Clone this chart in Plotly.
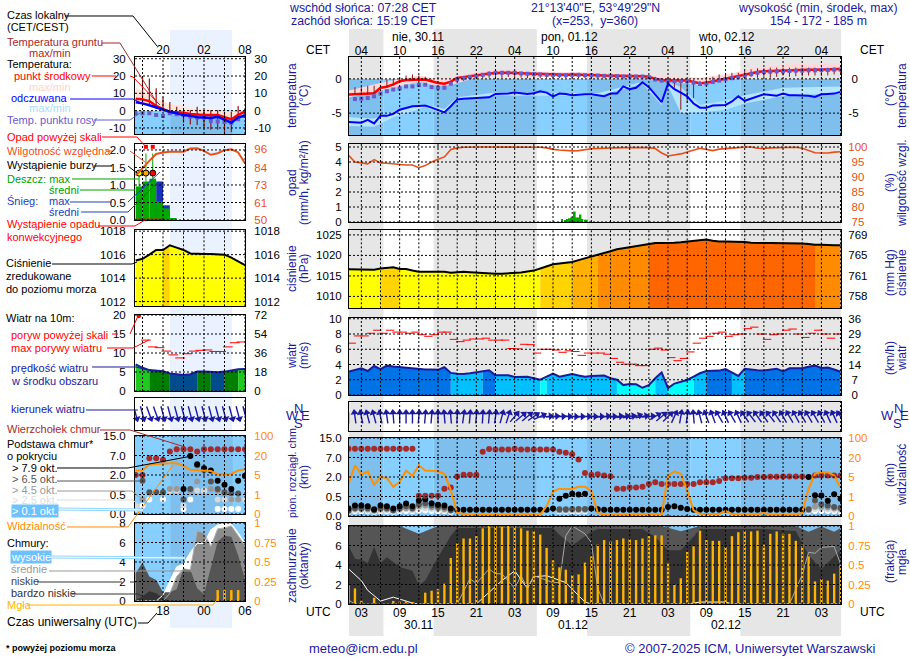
import math
import plotly.graph_objects as go
import numpy as np

W, H = 910, 660
FONT = "Liberation Sans"
NAVY = "#1a1a9c"
ORANGE = "#ff8c00"
RH_COL = "#e8501a"

# ---- time axes (hours since 30.11 00 UTC)
hours_r = list(range(1, 79))
hours_l = list(range(14, 31))
grid_r = list(range(3, 79, 3))
grid_l = [15, 18, 21, 24, 27, 30]
tick_r = list(range(3, 79, 6))
top_r = ["04", "10", "16", "22"] * 3 + ["04"]
bot_r = ["03", "09", "15", "21"] * 3 + ["03"]
tick_l = [18, 24, 30]
top_l = ["20", "02", "08"]
bot_l = ["18", "00", "06"]
night_r = [(1.07, 6.47), (14.32, 30.47), (38.32, 54.47), (62.32, 78.07)]
day_r = [(6.47, 14.32), (30.47, 38.32), (54.47, 62.32)]
night_l = (19.1, 28.2)

# ---- long meteogram, right column
t_mid = [-2.3,-2.25,-2.2,-2.2,-2.1,-1.3,-1.15,-0.8,-0.35,-0.15,
         -0.1,-0.05,-0.1,-0.35,-0.6,-0.7,-0.4,0.15,0.25,0.4,
         0.5,0.65,0.8,0.9,0.9,0.9,0.9,0.85,0.8,0.75,
         0.7,0.65,0.65,0.6,0.6,0.65,0.65,0.6,0.6,0.55,
         0.5,0.5,0.45,0.4,0.4,0.4,0.4,0.3,0.0,-0.15,
         -0.25,-0.2,-0.2,-0.25,-0.45,-0.65,-0.55,-0.35,-0.15,0.05,
         0.2,0.35,0.55,0.8,1.0,1.1,1.15,1.2,1.2,1.25,
         1.3,1.3,1.35,1.35,1.4,1.4,1.45,1.45]
band_h = [1,6,12,15,17,21,24,30,40,48,56,61,64,69,78]
t_max = [-1.7,-0.6,0.5,0.0,0.3,1.0,1.4,1.1,0.9,0.6,0.15,0.8,1.6,2.1,2.35]
t_min = [-2.7,-1.7,-0.4,-1.0,-0.9,0.2,0.5,0.3,0.2,0.0,-0.9,0.0,0.5,0.9,1.2]
feels = [-6.3,-6.4,-6.4,-6.0,-6.5,-5.4,-5.4,-5.1,-4.5,-4.25,
         -4.0,-3.95,-3.9,-4.2,-4.5,-4.9,-4.0,-3.0,-2.9,-2.85,
         -2.8,-2.8,-2.7,-2.2,-2.2,-2.15,-2.0,-2.1,-2.2,-2.1,
         -1.8,-2.0,-2.55,-2.15,-2.2,-2.4,-2.3,-2.25,-2.25,-2.35,
         -2.55,-2.15,-2.15,-1.1,-1.5,-1.3,-0.5,-1.2,-2.3,-3.4,
         -0.7,-1.5,-2.0,-2.55,-3.6,-4.2,-4.2,-3.9,-3.85,-3.8,
         -3.3,-2.55,-3.2,-2.85,-2.5,-2.25,-2.35,-2.45,-2.15,-2.4,
         -2.4,-2.4,-2.45,-2.65,-2.25,-2.2,-2.15,-1.9]
feels_h = [1,5,8,13,16,18,24,40,47,50,51,53,56,60,63,69,78]
feels_max = [-5.6,-5.8,-4.8,-3.7,-4.4,-2.7,-2.0,-2.1,-0.4,-3.0,-0.5,-1.2,-3.8,-3.2,-2.4,-1.3,-1.1]
feels_min = [-6.9,-7.0,-5.6,-4.1,-5.1,-3.2,-2.4,-2.5,-0.7,-3.8,-1.0,-5.0,-4.9,-4.5,-3.6,-2.5,-2.1]
dew = [None,-2.95,-2.9,-2.8,-2.55,-2.15,-1.8,-1.55,-1.4,-1.1,
       -1.1,-0.9,-0.85,-1.2,-1.3,-1.3,-0.7,-0.1,0.1,0.3,
       0.45,0.6,0.75,0.9,0.9,0.9,0.9,0.8,0.75,0.7,
       0.65,0.6,0.6,0.55,0.55,0.6,0.6,0.55,0.55,0.5,
       0.45,0.45,0.4,0.35,0.35,0.35,0.35,0.25,-0.1,-0.25,
       -0.4,-0.3,-0.3,-0.35,-0.55,-0.75,-0.65,-0.45,-0.25,-0.05,
       0.1,0.25,0.45,0.7,0.9,1.0,1.05,1.1,1.1,1.15,
       1.2,1.2,1.25,1.25,1.3,1.3,1.35,1.35]
ground_max = [-2.0,-1.2,-1.2,-1.0,-1.0,-1.0,-0.1,0.0,0.15,0.5,
              0.65,0.5,0.3,-0.1,-0.35,-0.8,-0.3,0.15,0.25,0.4,
              0.5,0.7,1.1,1.1,1.1,1.1,1.1,1.0,0.9,0.8,
              0.75,0.7,0.7,0.65,0.65,0.65,0.65,0.6,0.6,0.6,
              0.6,0.6,0.55,0.5,0.5,0.5,0.5,0.4,0.3,0.1,
              0.3,0.15,-0.1,-0.1,-0.1,-0.3,-0.1,0.3,0.65,0.65,
              0.9,0.9,1.15,1.4,1.55,1.55,1.65,1.65,1.65,1.65,
              1.65,1.65,1.65,1.65,1.65,1.65,1.65,1.65]
ground_min = [-2.3,-2.3,-2.3,-2.3,-2.2,-1.4,-1.2,-1.0,-0.6,-0.3,
              -0.2,-0.2,-0.2,-0.4,-0.7,-0.8,-0.5,-0.25,-0.3,-0.1,
              0.0,0.1,0.15,0.2,0.15,0.3,0.2,0.2,0.1,0.1,
              0.1,0.1,0.1,0.1,0.1,0.1,0.1,0.1,0.1,0.1,
              0.1,0.1,0.1,0.1,0.0,0.0,0.0,0.0,-0.2,-0.4,
              -0.85,-1.3,-4.5,-3.5,-2.8,-1.0,-1.0,-0.6,-0.35,-0.1,
              0.0,0.15,0.4,0.3,0.15,0.3,0.15,0.3,0.5,0.3,
              0.4,0.4,0.5,0.5,0.4,0.5,0.65,0.65]
rh = [97.2,95,94.7,94.4,95.8,94.7,94.6,94.4,94,94,
      94,93.1,93.8,95,95.9,96.7,99.2,99.7,99.9,100,
      100,100,100,100,100,100,100,100,100,100,
      99.9,99.7,99.2,99,98.8,98.7,98.8,99.2,99.4,99.5,
      99.6,99.8,99.8,99.8,99.8,99.8,99.8,99.8,99.5,98,
      97,97.3,97.7,98.3,99,99.6,99.2,98.8,99.3,99.4,
      99.5,99.8,100,100,99.6,99.5,99.7,99.8,99.9,99.9,
      99.9,99.6,98.8,98.1,98,98,98.3,98.4]
rain_h = [34.4,34.9,35.2,35.5,35.8,36.1,36.4,36.7,37,37.3,37.6,38,38.3]
rain = [0.2,0.12,0.2,0.25,0.3,0.3,0.7,0.3,0.3,0.5,0.2,0.15,0.15]
press = [1016.6,1016.6,1016.55,1016.5,1016.5,1016.8,1016.9,1017.1,1016.7,1016.7,
         1016.3,1016.0,1016.0,1016.05,1016.05,1016.0,1015.8,1015.9,1016.0,1015.9,
         1015.8,1015.65,1015.5,1015.5,1015.55,1015.6,1015.65,1015.85,1016.1,1016.3,
         1016.8,1017.3,1017.85,1018.05,1018.2,1018.4,1018.85,1019.3,1019.8,1020.3,
         1020.6,1021.0,1021.5,1021.75,1022.0,1022.2,1022.5,1022.85,1023.0,1023.0,
         1023.0,1023.1,1023.2,1023.4,1023.6,1023.8,1023.9,1023.6,1023.4,1023.4,
         1023.4,1023.4,1023.3,1023.1,1023.0,1023.0,1023.0,1023.0,1023.0,1023.0,
         1023.0,1022.9,1022.8,1022.6,1022.6,1022.5,1022.5,1022.5]
wind = [3.07,3.3,3.5,3.15,3.8,3.4,3.85,3.75,3.65,3.6,
        3.5,3.4,3.35,3.35,3.3,3.65,2.9,2.8,2.75,2.85,
        3.0,3.1,3.25,2.6,2.6,2.6,2.37,2.4,2.4,2.2,
        2.0,2.4,2.8,2.4,2.55,2.75,2.55,2.4,2.5,2.55,
        2.55,2.2,2.0,1.3,1.45,1.4,0.95,1.3,2.2,2.95,
        0.9,1.5,1.75,1.97,2.4,2.85,3.15,3.15,3.2,3.4,
        2.95,2.5,3.45,3.3,3.25,3.2,3.35,3.45,3.1,3.5,
        3.5,3.5,3.7,3.85,3.55,3.6,3.35,3.05]
gust_h = [h + 0.5 for h in range(1, 78)]
gust = [6.8,7.75,7.75,8.1,8.5,8.1,8.5,8.25,8.25,8.1,
        8.25,7.9,7.7,7.9,8.25,8.25,7.3,7.0,7.2,7.35,
        7.35,7.45,7.2,7.2,7.2,6.1,6.05,6.65,6.6,5.5,
        6,6,5.9,5.6,5.8,5.7,5.2,5.5,5.5,
        5.5,5.35,4.8,4.3,4.05,4.05,3.85,3.85,6,6.15,5.9,4.9,4.5,4.8,5.65,6.8,7.45,7.7,8.1,8.25,
        7.7,7.9,8,8.7,8.9,8,7.3,7.9,8,8.5,8.65,8,7.55,8.1,8.5,8,7.45,8]
heading = [0,-8,-12,-15,-15,-12,-8,-5,0,0,
           0,5,5,5,0,-5,-5,3,8,5,
           5,3,5,8,15,18,40,50,50,55,
           65,85,85,88,90,92,90,88,90,90,
           85,88,85,82,80,70,80,85,60,50,
           45,25,10,8,-5,-15,-20,-20,-30,-25,
           -30,-25,-35,-38,-35,-35,-38,-35,-30,-30,
           -28,-30,-30,-30,-28,-25,-25,-35]
top_km = [10.6]*11 + [0.55]*4 + [1.1,1.2,2.1,2.6,2.6,2.6,9.4,10.5,10.3,10.3,10.3,10.6] + [10.3]*6 + \
         [9.4,9,8.3,6.5,3,2.6,2.7,2.4,2.2,1.1,1.1,1.2,1.2,1.25,1.47,1.6,1.46] + [1.46]*5 + [1.6]*3 + \
         [1.7,1.9,1.9,1.9,1.95,1.95,2,2,2.05,2.05,2.1,2.1,2.1,2.1,None] + [2.4]*5
base79 = [0.19,0.27,0.27,0.25,0.17,0.27,0.25,0.19,0.25,0.32,0.25,0.4,0.43,0.33,0.29,0.27,0.19] + [0.16]*15 + \
         [0.19,0.44,0.55,0.72,0.65,0.72,0.19,0.17] + [0.16]*10 + [0.23,0.25,0.21,0.18] + [0.16]*18 + \
         [2.0,0.59,0.57,0.39,0.67,0.44]
thin_h = list(range(1, 18)) + list(range(34, 39)) + list(range(73, 79))
base65 = [.14,.2,.2,.2,.15,.2,.2,.15,.2,.25,.2,.3,.33,.27,.23,.22,.15,.17,.17,.18,.18,.18,.17,.4,.3,.27,.23,.21]
base45 = [.13,.18,.18,.17,.14,.17,.17,.14,.18,.2,.18,.25,.27,.22,.2,.18,.14,.15,.15,.16,.16,.16,.15,.24,.23,.22,.2,.18]
base25 = [.12,.15,.15,.14,.13,.14,.15,.13,.15,.17,.15,.2,.2,.18,.16,.15,.13,.14,.14,.14,.14,.14,.14,.18,.18,.17,.16,.15]
base01 = [.11,.12,.12,.12,.11,.12,.12,.11,.12,.13,.12,.14,.14,.13,.12,.12,.11,.12,.12,.12,.12,.12,.12,.13,.13,.13,.12,.12]
visib = [3.6,14,7,9.4,3.4,5,4.8,3,4,9.8,6,14,10,9.8,9.4,7.5,2.3,0.17,0.1,0.07,
         0.07,0.07,0.07,0.07,0.07,0.07,0.07,0.07,0.07,0.07,0.08,0.5,2,2.6,2.5,2.6,3,3,2.1,0.17,
         0.07,0.07,0.07,0.07,0.07,0.07,0.07,0.07,0.07,0.1,6,9.4,7.5,2.2,0.29,0.12,0.1,0.1,0.1,0.26,
         0.1,0.09,0.09,0.09,0.09,0.17,0.07,0.07,0.07,0.07,0.07,0.17,2.6,7.5,8.8,8.5,6.2,2.8]
vlow_h = [1,2,3,4,5,6,7,8,9,11,12,13,15,17,18,33,34,36,39,40,47,49,51,53,55,56,66,71,73,75,78]
vlow = [6,4.65,4.55,4.2,5.85,4.2,4.8,4.3,3.8,3.4,1.9,2.4,4.8,7,7.8,7.8,7.1,6,7.4,7.7,7.7,6.9,5.5,5.5,6.9,7.7,7.7,7.5,5,3.6,5.5]
low_h = [1,9,12,15,50,53,56,71,73,75,77,78]
low = [8,8,7.2,8,8,7.45,8,8,7.4,7.95,7.4,7.8]
mid_h = [1,2,17,18,20,21,23,24,25,27,28,29,30,33,34,35,36,38,39,40,41,70,72,73,74,75,77,78]
mid = [.4,0,0,0,2.6,2.1,3.6,3.1,3.1,1.6,2.9,1.6,2.9,2.2,2.2,7,8,7.2,6.3,1.6,0,0,3,5.3,5.2,5.8,5.9,4.1]
high_h = [1,3,4,5,6,8,11,12,21,25,27,29,30,32,35,38,39,54,56,60,61,78]
high = [3.6,2.4,1.4,.8,.3,.7,.1,0,0,2.4,3.4,1.6,2.8,2.9,2.2,.2,0,0,.2,.2,0,0]
mist = [.24,.2,.04,0,.08,0,0,.04,.03,.04,.02,0,.145,.17,.19,.26,.59,.78,.84,.84,
        .87,.97,1,1,1,1,1,.97,.94,.94,.89,.72,.56,.47,.44,.37,.38,.53,.61,.76,
        .82,.8,.82,.84,.83,.82,.84,.87,.88,.88,.53,.25,.33,.67,.74,.94,.82,.81,.81,.73,
        .87,.92,.94,.93,.94,.76,.9,.93,.9,.9,.81,.76,.61,.29,.32,.3,.39,.5]

# ---- short meteogram, left column
l_t = [6.9,6.5,5.5,2.7,.8,-.8,-1,-1.2,-1.9,-2.3,-2.5,-2.5,-2.5,-3.8,-5,-2.5,-.6]
l_tmax = [13.5,11,9,6.5,5.2,3.8,3.3,2.5,1.7,1,.8,.5,.2,0,-.3,-.6,-.6]
l_tmin = [5,4.5,3,1,0,-1.2,-1.5,-2,-2.5,-3,-3,-3,-3,-4.5,-5.5,-3,-1]
l_feels = [4.8,4.2,3.1,1.9,.4,-.6,-1.5,-2.5,-2.9,-3.8,-4,-4.3,-3.5,-5.4,-7,-3.9,-2.9]
l_dew = [-1.5,-1.5,-1.5,-2.5,-3.1,-1.5,-2.1,-2.5,-3.5,-4,-4,-6,-6.3,-6.5,-7,-5,-3]
l_gr_h = list(range(15, 31))
l_gmax = [20,18.6,12.9,7.7,5,2.3,.4,.4,2.3,.4,.4,.4,-.6,-.6,2.7,1]
l_gmin = [5,3,1,0,-1,-2,-7,-8,-8.3,-10.2,-11,-11,-13,-12.5,-5.8,-2]
l_rh = [79,84,88.5,93,94,94.4,94.5,94.5,96.5,96.7,95,92.5,93.5,95.5,96,94,87]
l_bar_h = [14.5,15.5,16.5,17.5,18.5,19.5]
l_rain = [.96,1.1,1.18,.53,.33,.05]
l_snow = [0,0,0,1.1,.42,0]
l_storm = [1.34,1.34,1.34]
l_rain_max = [1.34,1.9,1.9]
l_over_h = [15.5,16.5]
l_over = [2.09,2.09]
l_conv_h = [14.5,15.5,16.5,17.5]
l_press = [1015.5,1015.65,1016,1016.4,1016.4,1016.8,1016.6,1016.4,1016.1,1016.05,1016.05,1016.05,1016.05,1016,1015.75,1015.4,1015.1]
l_wind = [7,6.1,5.5,5.3,5.2,4.6,4.3,4.2,4.4,5.1,5.1,4.95,4.95,5.1,5.4,5.75,5.8]
l_gust_h = [h + 0.5 for h in range(15, 30)]
l_gust = [13.4,11.6,11.4,10.5,9.5,8.7,9.8,10.5,10.7,10.8,10.4,10.4,11.6,12.7,12.9]
l_heading = [165,165,160,160,165,165,165,165,165,165,165,165,165,165,165,165,165]
l_top = [2,2,6.3,6.3,5.9,8.6,9.6,9.6,9.6,8.6,9.6,9.6,9.6,9.6,9.6,9.6,9.6]
l_base79 = [None,None,None,None,None,None,None,.92,6.9,4.75,3.75,3.15,1.55,1.25,.92,1.55,1.94]
l_base65 = [None,1.55,.68,.68,.68,None,None,.37,.92,4.5,3.3,1.5,.92,.67,.6,.57,1.9]
l_base45 = [None,.37,None,None,None,.92,.92,None,.8,1.5,None,.92,.8,.57,.37,.37,None]
l_base25 = [.2,None,None,None,None,.8,.8,.22,None,.8,.78,None,.37,.37,.37,None,.37]
l_base01 = [.13,.21,.37,None,.38,None,None,.13,.37,None,.78,None,.13,.13,.13,.13,None]
l_vis = [8.5,8.7,13,13.5,14,14,14,12,9,9,8.5,8,5.6,5.6,5.8,8.5,9.5]
l_high = [0,0,0,0,.6,2,3.5,3.8,5,5.9,5.9,7.3,7.8,7.9,7.9,7,5.9]
l_mid = [0,0,0,0,0,.8,2.5,3.3,3.2,7.2,7,5.6,7.4,7.5,7.7,6.7,5.7]
l_low = [2.85,3.95,2.5,2.15,.9,.9,1.2,3.3,3.2,1.3,.7,3.4,6.1,6.7,6.6,4.7,2.2]
l_vlow = [.1,.45,1,.8,.3,0,0,0,0,0,0,0,0,0,0,0,0]
l_mist_h = [26,27,28,29]
l_mist = [.14,.14,.14,.14]

# colour classes
press_limits = [1016.75, 1018.3, 1020, 1022.7]
press_cols = ["#ffff00", "#ffd400", "#ffb000", "#ff8c00", "#ff6600"]
wind_limits = [2, 3, 4, 5, 5.6]
wind_cols = ["#00ffff", "#00c0ff", "#0073e6", "#004c8c", "#007f00", "#1ec81e"]

# cloud base and visibility share one uneven scale
km_knots = [0, 0.5, 2, 7, 15]
vis_knots = [0, 1, 5, 20, 100]
lvl_ticks = [0, 1, 2, 3, 4]
km_labels = ["0.0", "0.5", "2.0", "7.0", "15.0"]
vis_labels = ["0", "1", "5", "20", "100"]


def X(px):
    return px / W


def Y(py):
    return 1 - py / H


def lvl(vals, knots):
    return [None if v is None else float(np.interp(v, knots, lvl_ticks)) for v in vals]


fig = go.Figure()
layout = {}
shapes = []

COLS = {"L": (135, 245, [13.9, 30.0], grid_l), "R": (349, 841, [1.07, 78.07], grid_r)}
TICK_SIZE = 11.5


def panel(n, col, top, bot, yr, yt, ylab, rr, rt, rlab, rcol="black", hgrid=True):
    left, right, xr, grid = COLS[col]
    pad = 6 if col == "L" else 4
    layout[f"xaxis{n}"] = dict(domain=[X(left), X(right)], range=xr, anchor=f"y{n}", showgrid=False,
                               zeroline=False, showline=True, linecolor="black", linewidth=1, mirror=True,
                               showticklabels=False, ticks="", fixedrange=True)
    layout[f"yaxis{n}"] = dict(domain=[Y(bot), Y(top)], range=yr, anchor=f"x{n}", showgrid=False, zeroline=False,
                               showline=True, linecolor="black", linewidth=1, mirror=True,
                               tickvals=yt, ticktext=ylab, ticks="outside", ticklen=pad,
                               tickcolor="rgba(0,0,0,0)", tickfont=dict(family=FONT, size=TICK_SIZE, color="black"),
                               showticklabels=bool(yt))
    layout[f"yaxis{n+20}"] = dict(domain=[Y(bot), Y(top)], range=rr, anchor=f"x{n}", overlaying=f"y{n}", side="right",
                                  showgrid=False, zeroline=False, tickvals=rt, ticktext=rlab, ticks="outside",
                                  ticklen=pad, tickcolor="rgba(0,0,0,0)",
                                  tickfont=dict(family=FONT, size=TICK_SIZE, color=rcol), showticklabels=bool(rt))
    fig.add_trace(go.Scatter(x=[None], y=[None], xaxis=f"x{n}", yaxis=f"y{n+20}", showlegend=False))
    for g in grid:
        shapes.append(dict(type="line", xref=f"x{n}", yref=f"y{n}", x0=g, x1=g, y0=yr[0], y1=yr[1], layer="above",
                           line=dict(color="black", width=1, dash="2px,2px")))
    if hgrid:
        for t in yt:
            shapes.append(dict(type="line", xref=f"x{n}", yref=f"y{n}", x0=xr[0], x1=xr[1], y0=t, y1=t, layer="above",
                               line=dict(color="black", width=1, dash="2px,2px")))


def line(n, x, y, color, width=2, right=False):
    fig.add_trace(go.Scatter(x=x, y=y, mode="lines", line=dict(color=color, width=width), showlegend=False,
                             connectgaps=False, xaxis=f"x{n}", yaxis=f"y{n+20}" if right else f"y{n}"))


def dots(n, x, y, color, size=6, symbol="circle", right=False, **kw):
    fig.add_trace(go.Scatter(x=x, y=y, mode="markers", showlegend=False, xaxis=f"x{n}",
                             yaxis=f"y{n+20}" if right else f"y{n}",
                             marker=dict(color=color, size=size, symbol=symbol, **kw)))


def dashes(n, x, y, size):
    fig.add_trace(go.Scatter(x=x, y=y, mode="markers", showlegend=False, xaxis=f"x{n}", yaxis=f"y{n}",
                             marker=dict(symbol="line-ew", size=size, line=dict(color="#ff0000", width=1))))


def area(n, x, y, color):
    fig.add_trace(go.Scatter(x=x, y=y, mode="none", fill="tozeroy", fillcolor=color, showlegend=False,
                             xaxis=f"x{n}", yaxis=f"y{n}"))


def band(n, x, y_up, y_lo, color):
    fig.add_trace(go.Scatter(x=list(x) + list(x)[::-1], y=list(y_up) + list(y_lo)[::-1], mode="none", fill="toself",
                             fillcolor=color, showlegend=False, xaxis=f"x{n}", yaxis=f"y{n}"))


def classed(n, x, y, limits, cols, by_end=False):
    # one filled run per colour class, set by the value at the start (or end) of the hour
    vals = y[1:] + y[-1:] if by_end else y
    cls = [int(np.searchsorted(limits, v)) for v in vals]
    i = 0
    while i < len(x) - 1:
        j = i
        while j < len(x) - 1 and cls[j] == cls[i]:
            j += 1
        area(n, x[i:j + 1], y[i:j + 1], cols[cls[i]])
        i = j


def whisker(n, x, hi, lo, color, width=1):
    xs, ys = [], []
    for a, b, c in zip(x, hi, lo):
        xs += [a, a, None]
        ys += [b, c, None]
    line(n, xs, ys, color, width)


def arrows(n, col, x, head, length, height):
    # shafts have a fixed length on screen, so convert pixels to axis units
    left, right, xr, _ = COLS[col]
    kx = (xr[1] - xr[0]) / (right - left)
    ky = 2 / height
    xs, ys, hx, hy = [], [], [], []
    for h, ang in zip(x, head):
        s, c = math.sin(math.radians(ang)), math.cos(math.radians(ang))
        xs += [h - s * length / 2 * kx, h + s * (length / 2 - 3) * kx, None]
        ys += [-c * length / 2 * ky, c * (length / 2 - 3) * ky, None]
        hx.append(h + s * (length / 2 - 3) * kx)
        hy.append(c * (length / 2 - 3) * ky)
    fig.add_trace(go.Scatter(x=xs, y=ys, mode="lines", cliponaxis=False, showlegend=False, xaxis=f"x{n}", yaxis=f"y{n}",
                             line=dict(color="#1a1aa0", width=1.4)))
    fig.add_trace(go.Scatter(x=hx, y=hy, mode="markers", cliponaxis=False, showlegend=False, xaxis=f"x{n}", yaxis=f"y{n}",
                             marker=dict(symbol="triangle-up", size=7, angle=list(head), color="#1a1aa0",
                                         line=dict(width=0))))


def cold(n, x0, x1, y0, y1, color):
    shapes.append(dict(type="rect", xref=f"x{n}", yref=f"y{n}", x0=x0, x1=x1, y0=y0, y1=y1, layer="below",
                       line=dict(width=0), fillcolor=color))


# page backgrounds, night and day bands run through the whole column
shapes.append(dict(type="rect", xref="paper", yref="paper", x0=X(170), x1=X(232), y0=Y(628), y1=Y(30), layer="below",
                   line=dict(width=0), fillcolor="#eaf2ff"))
shapes.append(dict(type="rect", xref="paper", yref="paper", x0=X(349), x1=X(841), y0=Y(636), y1=Y(29), layer="below",
                   line=dict(width=0), fillcolor="#e6e6e6"))
for a, b in day_r:
    shapes.append(dict(type="rect", xref="x9", yref="paper", x0=a, x1=b, y0=Y(636), y1=Y(29), layer="below",
                       line=dict(width=0), fillcolor="white"))

# ---- left column panels
panel(2, "L", 57.3, 134, [-13.5, 30.8], [30, 20, 10, 0, -10], ["30", "20", "10", "0", "-10"],
      [-13.5, 30.8], [30, 20, 10, 0, -10], ["30", "20", "10", "0", "-10"])
panel(3, "L", 144, 220, [0, 2.17], [2, 1.5, 1, 0.5, 0], ["2.0", "1.5", "1.0", "0.5", "0.0"],
      [50, 99.5], [96, 84, 73, 61, 50], ["96", "84", "73", "61", "50"], RH_COL)
panel(4, "L", 230, 306.3, [1011.6, 1018.1], [1018, 1016, 1014, 1012], ["1018", "1016", "1014", "1012"],
      [1011.6, 1018.1], [1018, 1016, 1014, 1012], ["1018", "1016", "1014", "1012"])
panel(5, "L", 315, 391, [0, 20], [20, 15, 10, 5, 0], ["20", "15", "10", "5", "0"],
      [0, 72], [72, 54, 36, 18, 0], ["72", "54", "36", "18", "0"])
panel(6, "L", 398, 430, [-1, 1], [], [], [-1, 1], [], [], hgrid=False)
panel(7, "L", 436, 514, [0, 4], lvl_ticks, km_labels, [0, 4], lvl_ticks, vis_labels, ORANGE)
panel(8, "L", 523, 601, [0, 8], [8, 6, 4, 2, 0], ["8", "6", "4", "2", "0"],
      [0, 1], [1, 0.75, 0.5, 0.25, 0], ["1", "0.75", "0.5", "0.25", "0"], ORANGE)

# ---- right column panels
panel(9, "R", 57, 135, [-8.2, 3.2], [0, -5], ["0", "-5"], [-8.2, 3.2], [0, -5], ["\u00a00", "-5"])
panel(10, "R", 144, 222, [0, 5.2], [5, 4, 3, 2, 1, 0], ["5", "4", "3", "2", "1", "0"],
      [75, 101], [100, 95, 90, 85, 80, 75], ["100", "\u00a095", "\u00a090", "\u00a085", "\u00a080", "\u00a075"], RH_COL)
panel(11, "R", 230, 308.3, [1007.1, 1026.2], [1025, 1020, 1015, 1010], ["1025", "1020", "1015", "1010"],
      [1007.1, 1026.2], [1025, 1020, 1015, 1010], ["769", "765", "761", "758"])
panel(12, "R", 318, 395, [0, 10.1], [10, 8, 6, 4, 2, 0], ["10", "8", "6", "4", "2", "0"],
      [0, 36.4], [36, 28.8, 21.6, 14.4, 7.2, 0], ["36", "29", "22", "14", "\u00a07", "\u00a00"])
panel(13, "R", 402, 431, [-1, 1], [], [], [-1, 1], [], [], hgrid=False)
panel(14, "R", 438, 516, [0, 4], lvl_ticks, km_labels, [0, 4], lvl_ticks, vis_labels, ORANGE)
panel(15, "R", 526, 604, [0, 8], [8, 6, 4, 2, 0], ["8", "6", "4", "2", "0"],
      [0, 1], [1, 0.75, 0.5, 0.25, 0], ["1", "0.75", "0.5", "0.25", "0"], ORANGE)

# local time on top, UTC below
for n, vals, txt, shift in [(2, tick_l, top_l, -3), (9, tick_r, top_r, -5)]:
    layout[f"xaxis{n}"].update(side="top", showticklabels=True, tickvals=vals, ticktext=txt, ticks="outside",
                               ticklen=1, tickcolor="rgba(0,0,0,0)", ticklabelstandoff=shift,
                               tickfont=dict(family=FONT, size=12, color="black"))
for n, vals, txt, shift in [(8, tick_l, bot_l, -4), (15, tick_r, bot_r, -5)]:
    layout[f"xaxis{n}"].update(side="bottom", showticklabels=True, tickvals=vals, ticktext=txt, ticks="outside",
                               ticklen=3, tickcolor="rgba(0,0,0,0)", ticklabelstandoff=shift,
                               tickfont=dict(family=FONT, size=12, color="black"))

# blue below freezing and behind the cloud panels
DAY_BLUE, NIGHT_BLUE = "#86cfff", "#7fbfee"
cold(2, 13.9, 30, -13.5, 0, DAY_BLUE)
cold(2, night_l[0], night_l[1], -13.5, 0, NIGHT_BLUE)
for n, y0, y1 in [(7, 0, 4), (8, 0, 8)]:
    cold(n, 13.9, 30, y0, y1, DAY_BLUE)
    cold(n, night_l[0], night_l[1], y0, y1, NIGHT_BLUE)
for n, y0, y1 in [(9, -8.2, 0), (14, 0, 4), (15, 0, 8)]:
    for a, b in night_r:
        cold(n, a, b, y0, y1, NIGHT_BLUE)
    for a, b in day_r:
        cold(n, a, b, y0, y1, DAY_BLUE)

# temperature
band(2, hours_l, l_tmax, l_tmin, "#ffe4da")
whisker(2, l_gr_h, l_gmax, l_gmin, "#8b1a1a", 1.2)
dots(2, hours_l, l_dew, "#6a5acd", 4, "square")
line(2, hours_l, l_t, "#ff0000", 2.5)
line(2, hours_l, l_feels, "#0000ff", 2.5)

band(9, band_h, t_max, t_min, "#ffd9d9")
band(9, feels_h, feels_max, feels_min, "#b5e5ff")
line(9, hours_r, t_mid, "#ff0000", 2.5)
whisker(9, hours_r, ground_max, ground_min, "#8b1a1a", 1)
dots(9, hours_r, dew, "#6a5acd", 4, "square")
line(9, hours_r, feels, "#0000ff", 2)

# precipitation and humidity
fig.add_trace(go.Bar(x=l_bar_h, y=l_snow, width=1, marker=dict(color="#1c30c0", line=dict(width=0)), showlegend=False,
                     xaxis="x3", yaxis="y3"))
fig.add_trace(go.Bar(x=l_bar_h, y=l_rain, width=1, marker=dict(color="#00a800", line=dict(width=0)), showlegend=False,
                     xaxis="x3", yaxis="y3"))
whisker(3, l_bar_h[:3], l_rain_max, l_rain[:3], "#00a800", 1)
dots(3, l_over_h, l_over, "#ff0000", 4, "square")
dots(3, l_bar_h[:3], l_storm, ["#ffff00", "#ffa500", "#ff0000"], 6, "circle", line=dict(color="black", width=1))
fig.add_trace(go.Scatter(x=l_conv_h, y=[0.015] * 4, mode="markers", cliponaxis=False, showlegend=False, xaxis="x3",
                         yaxis="y3", marker=dict(symbol="line-ew", size=6, line=dict(color="#ff0000", width=1.5))))
line(3, hours_l, l_rh, RH_COL, 2, right=True)

fig.add_trace(go.Bar(x=rain_h, y=rain, width=0.28, marker=dict(color="#00a800", line=dict(width=0)), showlegend=False,
                     xaxis="x10", yaxis="y10"))
line(10, hours_r, rh, RH_COL, 1.6, right=True)

# pressure
classed(4, hours_l, l_press, press_limits, press_cols, by_end=True)
line(4, hours_l, l_press, "black", 2)
classed(11, hours_r, press, press_limits, press_cols)
line(11, hours_r, press, "black", 2)

# wind
classed(5, hours_l, l_wind, wind_limits, wind_cols)
line(5, hours_l, l_wind, "#1a1a9c", 2)
dashes(5, l_gust_h, l_gust, 7)
dots(5, [14.45], [19.7], "#ff0000", 4)
classed(12, hours_r, wind, wind_limits, wind_cols)
line(12, hours_r, wind, "#1a1a9c", 2)
dashes(12, gust_h, gust, 6)

arrows(6, "L", hours_l, l_heading, 16, 32)
arrows(13, "R", hours_r, heading, 14, 29)

# cloud base, tops and visibility
for vals, col in [(l_base01, "white"), (l_base25, "#d8d8d8"), (l_base45, "#999999"), (l_base65, "#555555"),
                  (l_base79, "black"), (l_top, "#a52a2a")]:
    dots(7, hours_l, lvl(vals, km_knots), col)
line(7, hours_l, lvl(l_vis, vis_knots), "#ff9000", 2, right=True)

for vals, col in [(base01, "white"), (base25, "#d8d8d8"), (base45, "#999999"), (base65, "#555555")]:
    dots(14, thin_h, lvl(vals, km_knots), col)
dots(14, hours_r, lvl(base79, km_knots), "black")
dots(14, hours_r, lvl(top_km, km_knots), "#a52a2a")
line(14, hours_r, lvl(visib, vis_knots), "#ff9000", 2, right=True)

# cloud cover and mist
area(8, hours_l, l_high, "white")
area(8, hours_l, l_mid, "#8c8c8c")
area(8, hours_l, l_low, "#555555")
area(8, hours_l, l_vlow, "#333333")
line(8, hours_l, l_high, "white", 1)
line(8, hours_l, l_mid, "#b0b0b0", 1)
fig.add_trace(go.Bar(x=l_mist_h, y=l_mist, width=0.36, marker=dict(color="#ffb400", line=dict(width=0)),
                     showlegend=False, xaxis="x8", yaxis="y28"))

area(15, high_h, high, "white")
area(15, mid_h, mid, "#8c8c8c")
area(15, low_h, low, "#555555")
area(15, vlow_h, vlow, "#333333")
line(15, high_h, high, "white", 1)
line(15, mid_h, mid, "#a8a8a8", 1)
fig.add_trace(go.Bar(x=hours_r, y=mist, width=0.37, marker=dict(color="#ffb400", line=dict(width=0)),
                     showlegend=False, xaxis="x15", yaxis="y35"))

# ---- texts
BLK, RED, BRN = "black", "#ff0000", "#a52a2a"
left_labels = [
    ("Czas lokalny", 6, 15, BLK), ("(CET/CEST)", 6, 27, BLK),
    ("Temperatura gruntu", 6, 42, BRN), ("max/min", 28, 53, BRN),
    ("Temperatura:", 6, 64, BLK), ("punkt środkowy", 13, 76, RED), ("max/min", 28, 87, "#ffd5c8"),
    ("odczuwana", 10, 98, "#0000ff"), ("max/min", 28, 108, "#a8dcff"), ("Temp. punktu rosy", 6, 120, "#6a5acd"),
    ("Opad powyżej skali", 6, 137, RED), ("Wilgotność względna", 6, 151, RH_COL), ("Wystąpienie burzy", 6, 165, BLK),
    ("Deszcz: max", 6, 179, "#00a000"), ("średni", 48, 190, "#00a000"),
    ("Śnieg:", 6, 201, "#2040c0"), ("max", 48, 201, "#2040c0"), ("średni", 48, 212, "#2040c0"),
    ("Wystąpienie opadu", 6, 224, RED), ("konwekcyjnego", 6, 237, RED),
    ("Ciśnienie", 5, 263, BLK), ("zredukowane", 5, 276, BLK), ("do poziomu morza", 5, 289, BLK),
    ("Wiatr na 10m:", 5, 318, BLK), ("poryw powyżej skali", 10, 335, RED), ("max porywy wiatru", 10, 348, RED),
    ("prędkość wiatru", 10, 368, NAVY), ("w środku obszaru", 10, 381, NAVY), ("kierunek wiatru", 10, 409, NAVY),
    ("Wierzchołek chmur", 6, 429, BRN), ("Podstawa chmur*", 6, 444, BLK), ("o pokryciu", 6, 456, BLK),
    ("> 7.9 okt.", 11, 468, BLK), ("> 6.5 okt.", 11, 479, "#555555"), ("> 4.5 okt.", 11, 490, "#999999"),
    ("> 2.5 okt.", 11, 500, "#dddddd"), ("Widzialność", 6, 526, ORANGE), ("Chmury:", 6, 543, BLK),
    ("średnie", 10, 569, "#999999"), ("niskie", 10, 581, "#444444"), ("bardzo niskie", 10, 593, "#333333"),
    ("Mgła", 6, 605, "#ffb400"),
]
boxed_labels = [("> 0.1 okt.", 11, 511), ("wysokie", 10, 557)]
head_labels = [
    ("wschód słońca: 07:28 CET", 363, 8), ("zachód słońca: 15:19 CET", 363, 21),
    ("21°13'40\"E, 53°49'29\"N", 595, 8), ("(x=253,  y=360)", 595, 21),
    ("wysokość (min, środek, max)", 818, 8), ("154 - 172 - 185 m", 818, 21),
]
foot_labels = [("meteo@icm.edu.pl", 363, 648), ("© 2007-2025 ICM, Uniwersytet Warszawski", 750, 648)]
black_labels = [
    ("nie, 30.11", 418, 37), ("pon, 01.12", 569, 37), ("wto, 02.12", 726, 37),
    ("CET", 318, 50), ("CET", 872, 50), ("UTC", 318, 612), ("UTC", 872, 612),
    ("30.11", 418, 625), ("01.12", 573, 625), ("02.12", 726, 625),
]
rot_labels = [
    ("temperatura", 292, 96), ("(°C)", 304, 96), ("opad", 292, 183), ("(mm/h, kg/m²/h)", 304, 183),
    ("ciśnienie", 292, 269), ("(hPa)", 304, 269), ("wiatr", 292, 356), ("(m/s)", 304, 356),
    ("(km)", 304, 477), ("zachmurzenie", 292, 566), ("(oktanty)", 304, 566),
    ("(°C)", 890, 96), ("temperatura", 902, 96), ("(%)", 890, 183), ("wilgotność wzgl.", 902, 183),
    ("(mm Hg)", 890, 273), ("ciśnienie", 902, 273), ("(km/h)", 890, 358), ("wiatr", 902, 358),
    ("(km)", 890, 475), ("widzialność", 902, 475), ("(frakcja)", 890, 562), ("mgła", 902, 562),
]
rose_labels = [("N", 298, 408), ("W", 292, 416), ("E", 305, 416), ("S", 298, 423),
               ("N", 898, 408), ("W", 887, 416), ("E", 904, 416), ("S", 897, 423)]


def text(s, x, y, color, anchor="center", size=12, angle=0, bg=None, bold=False):
    fig.add_annotation(text=f"<b>{s}</b>" if bold else s, x=X(x), y=Y(y), xref="paper", yref="paper", showarrow=False,
                       xanchor=anchor, yanchor="middle", textangle=angle, borderpad=0, bgcolor=bg,
                       font=dict(family=FONT, size=size, color=color))


for s, x, y, c in left_labels:
    text(s, x, y, c, "left", size=11)
for s, x, y in boxed_labels:
    text(s, x, y, "white", "left", size=11, bg="#6ec1ff")
for s, x, y in head_labels:
    text(s, x, y, NAVY, size=12.3)
for s, x, y in foot_labels:
    text(s, x, y, NAVY, size=13)
for s, x, y in black_labels:
    text(s, x, y, "black")
for s, x, y in rot_labels:
    text(s, x, y, NAVY, angle=-90)
for s, x, y in rose_labels:
    text(s, x, y, NAVY, size=13)
text("pion. rozciągł. chm.", 292, 472, NAVY, angle=-90, size=10.8)
text("Czas uniwersalny (UTC)", 6, 622, BLK, "left", size=12)
text("* powyżej poziomu morza", 5, 648, "black", "left", size=9, bold=True)

# legend leaders
leaders = [
    ([(65, 16), (133, 16), (157, 46)], "black"),
    ([(102, 43), (120, 43), (157, 103)], BRN),
    ([(92, 76), (116, 76)], RED), ([(130, 76), (133, 77), (160, 105)], RED),
    ([(70, 99), (133, 99), (143, 104)], "#0000ff"),
    ([(94, 120), (130, 120), (140, 113)], "#6a5acd"),
    ([(102, 137), (137, 137), (146, 147)], RED),
    ([(106, 151), (112, 151)], RH_COL), ([(130, 151), (145, 162)], RH_COL),
    ([(94, 166), (112, 166)], "black"), ([(128, 166), (137, 173)], "black"),
    ([(72, 179), (139, 179)], "#00a000"), ([(80, 190), (135, 190)], "#00a000"),
    ([(70, 202), (112, 202)], "#2040c0"), ([(128, 202), (160, 172)], "#2040c0"),
    ([(81, 212), (128, 212), (157, 183)], "#2040c0"),
    ([(98, 226), (135, 226), (145, 220)], RED),
    ([(52, 264), (132, 264), (137, 262)], "black"),
    ([(112, 334), (118, 334)], RED), ([(130, 334), (138, 316)], RED),
    ([(107, 348), (133, 348), (149, 340)], RED),
    ([(92, 367), (136, 367), (147, 370)], NAVY),
    ([(86, 410), (138, 410)], NAVY),
    ([(100, 430), (130, 430), (185, 447)], BRN),
    ([(57, 468), (128, 468), (192, 456)], "black"),
    ([(57, 481), (143, 481)], "#555555"),
    ([(57, 491), (132, 491), (143, 500)], "#999999"),
    ([(57, 500), (133, 500), (140, 506)], "#dddddd"),
    ([(67, 527), (128, 527), (173, 465)], ORANGE),
    ([(49, 571), (192, 571)], "#999999"),
    ([(37, 582), (122, 582)], "#333333"), ([(130, 582), (136, 582)], "#333333"),
    ([(72, 594), (138, 594), (150, 600)], "#333333"),
    ([(27, 605), (213, 605), (219, 597)], "#ffb400"),
    ([(138, 623), (148, 623), (157, 613)], "black"),
]
double_leaders = [[(57, 509), (143, 510)], [(52, 557), (185, 558)]]


def leader(pts, color, width=1):
    path = "M " + " L ".join(f"{X(a):.5f} {Y(b):.5f}" for a, b in pts)
    shapes.append(dict(type="path", xref="paper", yref="paper", path=path, layer="above",
                       line=dict(color=color, width=width)))


for pts, c in leaders:
    leader(pts, c)
for pts in double_leaders:
    leader(pts, "#8fd3ff", 3)
    leader(pts, "white", 1)

fig.update_layout(width=W, height=H, margin=dict(l=0, r=0, t=0, b=0, autoexpand=False), autosize=False,
                  paper_bgcolor="white", plot_bgcolor="rgba(0,0,0,0)", showlegend=False, barmode="overlay",
                  hovermode=False, shapes=shapes, **layout)

fig.write_html("out.html", config=dict(displayModeBar=False), post_script="document.body.style.margin='0';")
